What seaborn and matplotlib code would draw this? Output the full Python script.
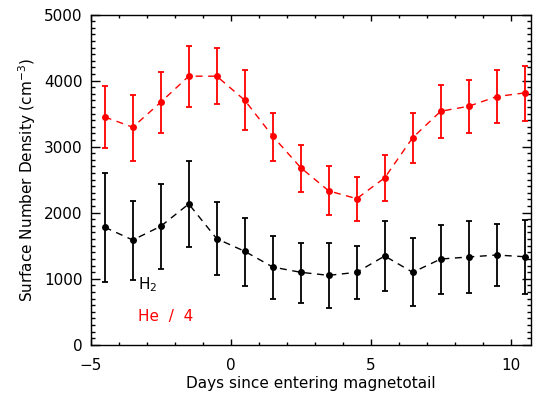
import matplotlib
matplotlib.use("Agg")
import matplotlib.pyplot as plt
import numpy as np
import pandas as pd
import seaborn as sns
from matplotlib.ticker import MultipleLocator

# --- data ---
days = [-4.5, -3.5, -2.5, -1.5, -0.5, 0.5, 1.5, 2.5, 3.5, 4.5, 5.5, 6.5, 7.5, 8.5, 9.5, 10.5]

he4 = [3450, 3294, 3673, 4067, 4067, 3703, 3158, 2682, 2330, 2212, 2528, 3136, 3536, 3612, 3758, 3814]
he4_hi = [3920, 3783, 4136, 4530, 4500, 4162, 3515, 3030, 2700, 2545, 2867, 3506, 3935, 4011, 4162, 4227]
he4_lo = [2975, 2783, 3208, 3597, 3642, 3253, 2783, 2316, 1965, 1879, 2177, 2753, 3136, 3208, 3359, 3394]

h2 = [1779, 1586, 1794, 2132, 1606, 1415, 1177, 1097, 1051, 1097, 1344, 1097, 1298, 1329, 1359, 1333]
h2_hi = [2602, 2182, 2439, 2788, 2162, 1915, 1652, 1536, 1536, 1500, 1879, 1617, 1818, 1870, 1829, 1889]
h2_lo = [945, 980, 1142, 1476, 1061, 889, 697, 627, 561, 697, 809, 586, 773, 788, 894, 773]

df = pd.DataFrame({"day": days, "he4": he4, "h2": h2})

sns.set_style("ticks")
plt.rcParams["font.family"] = ["DejaVu Sans"]

fig = plt.figure(figsize=(5.37, 3.94), dpi=100)
ax = fig.add_axes([0.169, 0.125, 0.819, 0.838])

for col, hi, lo, color in [("he4", he4_hi, he4_lo, "red"), ("h2", h2_hi, h2_lo, "black")]:
    y = np.array(df[col])
    yerr = [y - np.array(lo), np.array(hi) - y]
    ax.errorbar(df["day"], y, yerr=yerr, fmt="none", ecolor=color,
                elinewidth=1.3, capsize=2.5, capthick=1.3, zorder=2)
    sns.lineplot(data=df, x="day", y=col, ax=ax, color=color, linewidth=1,
                 linestyle=(0, (5, 4)), marker="o", markersize=5,
                 markeredgewidth=0, zorder=3)

ax.text(-3.3, 905, "H$_2$", color="black", fontsize=11, ha="left", va="center")
ax.text(-3.3, 424, "He  /  4", color="red", fontsize=11, ha="left", va="center")

ax.set_xlim(-5, 10.71)
ax.set_ylim(0, 5000)
ax.xaxis.set_major_locator(MultipleLocator(5))
ax.xaxis.set_minor_locator(MultipleLocator(1))
ax.yaxis.set_major_locator(MultipleLocator(1000))
ax.yaxis.set_minor_locator(MultipleLocator(100))
ax.tick_params(which="both", direction="in", top=True, right=True, labelsize=11,
               width=1, color="black", labelcolor="black")
ax.tick_params(axis="x", which="major", length=4.5, pad=9.5)
ax.tick_params(axis="x", which="minor", length=2.5)
ax.tick_params(axis="y", which="major", length=6.5, pad=6)
ax.tick_params(axis="y", which="minor", length=3)
for s in ax.spines.values():
    s.set_linewidth(1)
    s.set_color("black")

ax.set_xlabel("Days since entering magnetotail", fontsize=11, color="black", labelpad=2)
ax.set_ylabel("Surface Number Density (cm$^{-3}$)", fontsize=11, color="black", labelpad=4)

plt.savefig("out.png", dpi=100)
